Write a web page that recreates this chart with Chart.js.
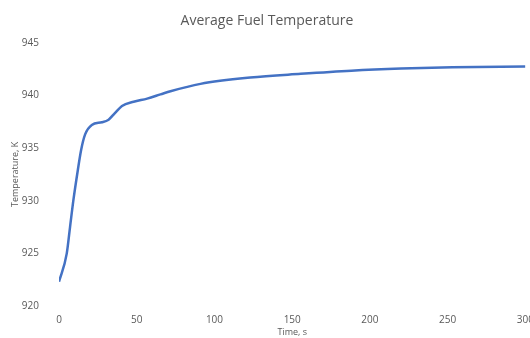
<!DOCTYPE html>
<html>
<head>
<meta charset="utf-8">
<script src="https://cdn.jsdelivr.net/npm/chart.js@4"></script>
<style>
html,body{margin:0;padding:0;background:#fff;overflow:hidden;}
#wrap{width:530px;height:338px;overflow:hidden;position:relative;}
#box{width:534px;height:338px;position:absolute;left:0;top:0;}
</style>
</head>
<body>
<div id="wrap"><div id="box"><canvas id="c"></canvas></div></div>
<script>
const times = [0, 5, 7.1, 9.3, 12.1, 14.2, 16.8, 21.1, 27.6, 31.9, 35.8, 40.5, 48, 56.7, 65.3, 71.7, 91, 123, 155.5, 188, 220, 253, 300];
const temps = [922.3, 925.0, 927.5, 930.1, 932.9, 934.8, 936.3, 937.2, 937.45, 937.7, 938.3, 939.0, 939.4, 939.7, 940.1, 940.4, 941.1, 941.7, 942.05, 942.35, 942.55, 942.68, 942.75];
const xTicks = [0, 50, 100, 150, 200, 250, 300];
const yTicks = [920, 925, 930, 935, 940, 945];
const chartTitle = 'Average Fuel Temperature';
const xTitle = 'Time, s';
const yTitle = 'Temperature, K';

const grey = '#595959';
new Chart(document.getElementById('c'), {
  type: 'line',
  data: {
    datasets: [{
      data: times.map((t, i) => ({x: t, y: temps[i]})),
      borderColor: '#4472C4',
      borderWidth: 2.5,
      pointRadius: 0,
      fill: false,
      cubicInterpolationMode: 'monotone'
    }]
  },
  options: {
    animation: false,
    responsive: true,
    maintainAspectRatio: false,
    layout: {padding: {left: 0, top: 4, bottom: 0, right: 0}},
    plugins: {
      legend: {display: false},
      tooltip: {enabled: false},
      title: {display: true, text: chartTitle, color: grey,
        font: {family: 'Open Sans', size: 14, weight: 'normal'}, padding: {top: 9, bottom: 13}}
    },
    scales: {
      x: {
        type: 'linear', min: xTicks[0], max: xTicks[xTicks.length-1],
        grid: {display: false}, border: {display: false},
        afterBuildTicks: (s) => { s.ticks = xTicks.map(v => ({value: v})); },
        afterFit: (s) => { s.height = 32; },
        ticks: {color: grey, font: {family: 'Open Sans', size: 10}, padding: 0, maxRotation: 0},
        title: {display: true, text: xTitle, color: grey, font: {family: 'Open Sans', size: 9}, padding: {top: 0, bottom: 0}}
      },
      y: {
        min: yTicks[0], max: yTicks[yTicks.length-1],
        grid: {display: false}, border: {display: false},
        afterBuildTicks: (s) => { s.ticks = yTicks.map(v => ({value: v})); },
        afterFit: (s) => { s.width = 59; },
        ticks: {color: grey, font: {family: 'Open Sans', size: 10}, padding: 12},
        title: {display: true, text: yTitle, color: grey, font: {family: 'Open Sans', size: 9}, padding: {top: 10, bottom: 0}}
      }
    }
  }
});
</script>
</body>
</html>
